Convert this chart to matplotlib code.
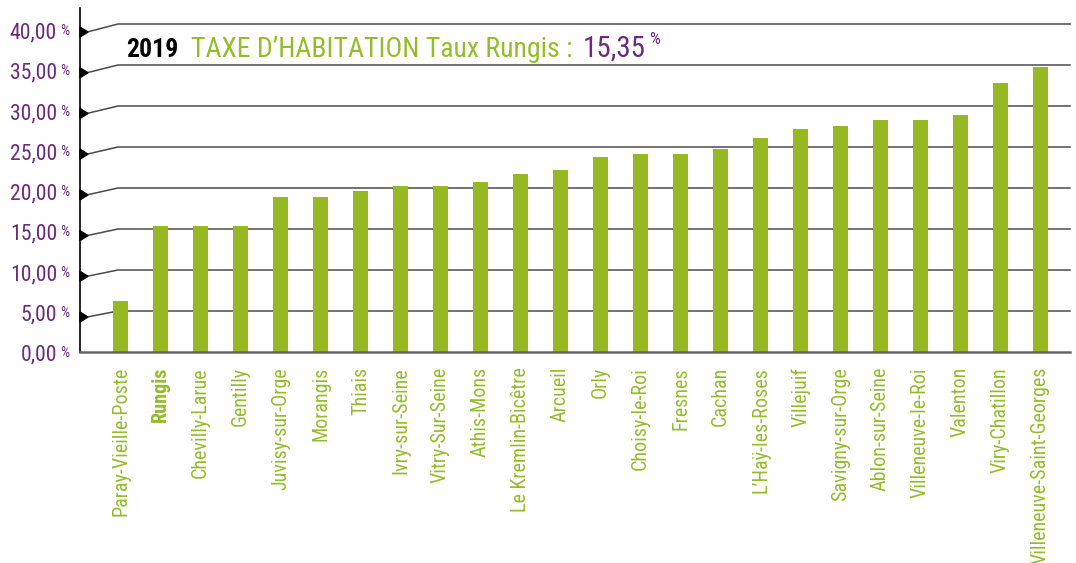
import matplotlib
matplotlib.use("Agg")
import matplotlib.pyplot as plt
import matplotlib.font_manager as fm
from matplotlib.patches import Polygon

# ---------------- data ----------------
communes = ["Paray-Vieille-Poste", "Rungis", "Chevilly-Larue", "Gentilly",
            "Juvisy-sur-Orge", "Morangis", "Thiais", "Ivry-sur-Seine",
            "Vitry-Sur-Seine", "Athis-Mons", "Le Kremlin-Bicêtre", "Arcueil",
            "Orly", "Choisy-le-Roi", "Fresnes", "Cachan", "L’Haÿ-les-Roses",
            "Villejuif", "Savigny-sur-Orge", "Ablon-sur-Seine",
            "Villeneuve-le-Roi", "Valenton", "Viry-Chatillon",
            "Villeneuve-Saint-Georges"]
taux = [6.2, 15.35, 15.35, 15.35, 18.85, 18.85, 19.6, 20.3, 20.3, 20.7,
        21.7, 22.15, 23.8, 24.1, 24.1, 24.7, 26.1, 27.2, 27.55, 28.3,
        28.3, 28.85, 32.8, 34.8]
y_ticks = [0, 5, 10, 15, 20, 25, 30, 35, 40]
y_tick_labels = ["0,00", "5,00", "10,00", "15,00", "20,00", "25,00",
                 "30,00", "35,00", "40,00"]
highlight = "Rungis"
title_year = "2019"
title_main = "TAXE D’HABITATION Taux Rungis :"
title_value = "15,35"

# ---------------- style ----------------
GREEN_BAR = "#96B923"
GREEN_TXT = "#93BD2B"
PURPLE = "#6B2A7D"
GRID = "#4a4a4a"

names = {f.name for f in fm.fontManager.ttflist}
scale = 1.0
if "Liberation Sans Narrow" in names:
    FONT = "Liberation Sans Narrow"
elif "Roboto Condensed" in names:
    FONT = "Roboto Condensed"
    scale = 0.95
else:
    FONT = "Liberation Sans"
    scale = 0.82
plt.rcParams["font.family"] = [FONT, "DejaVu Sans"]

W, H = 1076, 563
fig = plt.figure(figsize=(W / 100, H / 100), dpi=100)
fig.patch.set_facecolor("white")

# axes geometry (pixels)
left_px, right_px, bottom_px, top_px = 80, 1070, 352, 8
ax = fig.add_axes([left_px / W, (H - bottom_px) / H,
                   (right_px - left_px) / W, (bottom_px - top_px) / H])
PX_X = 40.0      # pixels per category
PX_Y = 8.2       # pixels per unit
x0 = 120.5       # centre of first bar (px)
xmin = (left_px - x0) / PX_X
xmax = (right_px - x0) / PX_X
ymax = (bottom_px - top_px) / PX_Y
ax.set_xlim(xmin, xmax)
ax.set_ylim(0, ymax)
ax.axis("off")

def px_to_x(p):
    return (p - x0) / PX_X

# vertical axis and floor line
ax.plot([xmin, xmin], [0, ymax], color="black", lw=1.2, clip_on=False, zorder=4)
ax.plot([xmin, xmax], [0, 0], color="#666666", lw=1.8, clip_on=False, zorder=4)

# back-wall grid lines with perspective connectors and tick wedges
x_front = px_to_x(87)
x_back = px_to_x(118)
for v in y_ticks[1:]:
    fy = 0.993 * v - 0.7
    ax.plot([x_front, x_back, xmax], [fy, v, v], color=GRID, lw=1.1,
            clip_on=False, zorder=1, solid_joinstyle="miter")
    tri = Polygon([[xmin, fy + 5 / PX_Y], [xmin, fy - 5 / PX_Y],
                   [px_to_x(88), fy]], closed=True, color="black",
                  clip_on=False, zorder=5)
    ax.add_patch(tri)

# bars
xs = list(range(len(communes)))
ax.bar(xs, taux, width=15 / PX_X, color=GREEN_BAR, zorder=3)

# category labels
for i, name in zip(xs, communes):
    ax.text(i, -15 / PX_Y, name, rotation=90, ha="center", va="top",
            fontsize=15.3 * scale, color=GREEN_TXT,
            fontweight="bold" if name == highlight else "normal",
            clip_on=False)

# y labels with superscript %
for v, lab in zip(y_ticks, y_tick_labels):
    c = 0.982 * v - 0.2
    ax.text(px_to_x(57), c - 7 / PX_Y, lab, ha="right", va="baseline",
            fontsize=16.5 * scale, color=PURPLE, clip_on=False)
    ax.text(px_to_x(60), c + 7.5 / PX_Y, "%", ha="left", va="top",
            fontsize=11 * scale, color=PURPLE, clip_on=False)

# title (pieces chained left to right)
yb = (H - 57) / H
fig.text(126 / W, yb, title_year, fontsize=19.5 * scale, fontweight="bold",
         color="black", ha="left", va="baseline")
t_main = fig.text(191 / W, yb, title_main, fontsize=21 * scale,
                  color=GREEN_TXT, ha="left", va="baseline")
renderer = fig.canvas.get_renderer()
end_main = t_main.get_window_extent(renderer).x1
t_val = fig.text((end_main + 10) / W, yb, title_value, fontsize=22 * scale,
                 color=PURPLE, ha="left", va="baseline")
end_val = t_val.get_window_extent(renderer).x1
fig.text((end_val + 4) / W, (H - 32) / H, "%", fontsize=13 * scale,
         color=PURPLE, ha="left", va="top")

fig.savefig("out.png", dpi=100, facecolor="white")
